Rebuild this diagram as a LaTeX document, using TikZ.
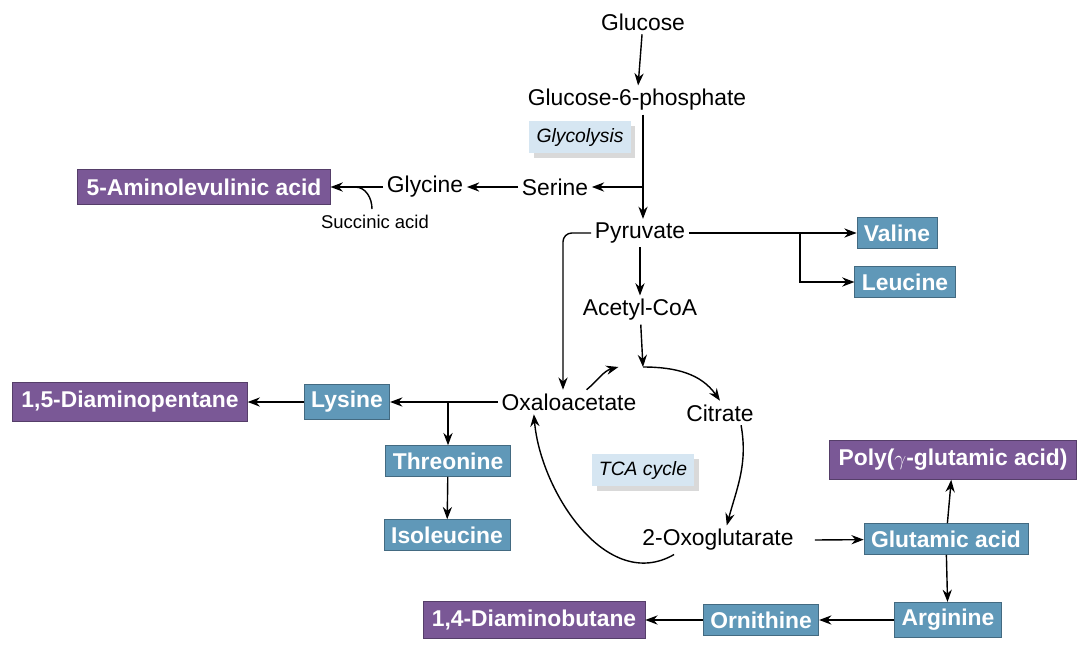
\documentclass[tikz,border=0pt]{standalone}
\usepackage{fontspec}
\setmainfont{Liberation Sans}
\usetikzlibrary{positioning,calc,shadows,arrows.meta}

\definecolor{prodpurple}{RGB}{122,88,150}
\definecolor{aablue}{RGB}{96,152,184}
\definecolor{labelblue}{RGB}{214,230,242}

\begin{document}
\begin{tikzpicture}[
    x=0.02cm, y=0.02cm,
    met/.style={font=\fontsize{13}{15}\selectfont, inner sep=2pt},
    aa/.style={fill=aablue, draw=aablue!70!black, text=white, font=\fontsize{13}{15}\selectfont\bfseries, minimum height=0.6cm, inner sep=4pt},
    prod/.style={fill=prodpurple, draw=prodpurple!70!black, text=white, font=\fontsize{13}{15}\selectfont\bfseries, minimum height=0.6cm, inner sep=5pt},
    tag/.style={fill=labelblue, drop shadow={opacity=0.3}, font=\fontsize{11}{13}\selectfont\itshape, inner sep=4pt},
    flow/.style={draw, thick, -{Stealth[length=7pt]}},
    line/.style={draw, thick}
]
\useasboundingbox (0,0) rectangle (1083,-660);

% Define node positions
\node[met] (glc) at (643,-22) {Glucose};
\node[met] (g6p) at (637,-100) {Glucose-6-phosphate};
\node[tag] (glyco) at (580,-137) {Glycolysis};
\node[met] (ser) at (555,-187) {Serine};
\node[met] (gly) at (425,-187) {Glycine};
\node[prod] (ala) at (204,-187) {5-Aminolevulinic acid};
\node[font=\fontsize{10.5}{12}\selectfont] (succ) at (375,-222) {Succinic acid};
\node[met] (pyr) at (640,-233) {Pyruvate};
\node[aa] (val) at (897,-233) {Valine};
\node[aa] (leu) at (905,-282) {Leucine};
\node[met] (aco) at (640,-310) {Acetyl-CoA};
\node[met] (oxa) at (569,-402) {Oxaloacetate};
\node[met] (cit) at (720,-413) {Citrate};
\node[tag] (tca) at (643,-470) {TCA cycle};
\node[met] (oxg) at (718,-540) {2-Oxoglutarate};
\node[aa] (lys) at (347,-402) {Lysine};
\node[prod] (dap) at (130,-402) {1,5-Diaminopentane};
\node[aa] (thr) at (448,-461) {Threonine};
\node[aa] (ile) at (447,-535) {Isoleucine};
\node[aa] (glu) at (946,-539) {Glutamic acid};
\node[prod] (pga) at (953,-460) {Poly($\gamma$-glutamic acid)};
\node[aa] (arg) at (948,-620) {Arginine};
\node[aa] (orn) at (761,-620) {Ornithine};
\node[prod] (dab) at (534,-620) {1,4-Diaminobutane};

% Branch points
\coordinate (serbr) at (643,-187);
\coordinate (valbr) at (800,-233);
\coordinate (lysbr) at (448,-402);
\coordinate (pyrl) at (563,-233);
\coordinate (top) at (643,-367);
\coordinate (succend) at (355,-187);

% Glycolysis and side routes
\draw[flow] (glc) -- (g6p);
\draw[flow] (g6p.south -| serbr) -- (pyr.north -| serbr);
\draw[flow] (serbr) -- (ser);
\draw[flow] (ser) -- (gly);
\draw[flow] (gly) -- (ala);
\draw[line] (succ.north) ++(-3,0) to[out=90, in=0] (succend);
\draw[flow] (pyr) -- (val.west |- pyr);
\draw[flow] (valbr) |- (leu);
\draw[flow, rounded corners=5pt] (pyr.west) -- (pyrl) -- (oxa.north -| pyrl);
\draw[flow] (pyr) -- (aco);
\draw[flow] (aco) -- (top);

% TCA cycle
\draw[flow] ([xshift=10pt]oxa.north) to[out=40, in=195] ([xshift=-14pt]top);
\draw[flow] (top) to[out=0, in=125] (cit.north);
\draw[flow] ([xshift=12pt]cit.south) to[out=-80, in=75] ([xshift=5pt]oxg.north);
\draw[flow] ([xshift=-25pt]oxg.south) to[out=210, in=-85] ([xshift=-20pt]oxa.south);

% Amino acid branches
\draw[flow] (oxa) -- (lys);
\draw[flow] (lysbr) -- (thr);
\draw[flow] (thr) -- (ile);
\draw[flow] (lys) -- (dap);
\draw[flow] ([xshift=10pt]oxg.east) -- (glu);
\draw[flow] (glu) -- (pga);
\draw[flow] (glu) -- (arg);
\draw[flow] (arg) -- (orn);
\draw[flow] (orn) -- (dab);

\end{tikzpicture}
\end{document}
